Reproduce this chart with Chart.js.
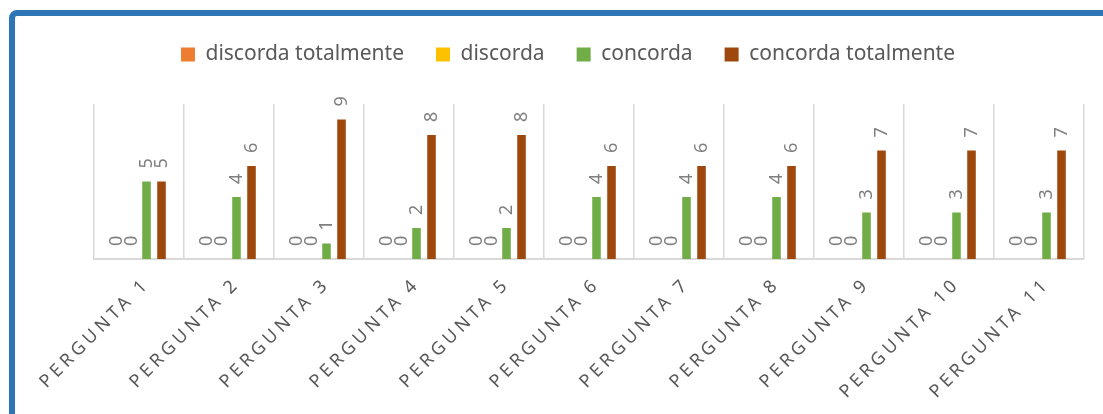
<!DOCTYPE html>
<html>
<head>
<meta charset="utf-8">
<script src="https://cdn.jsdelivr.net/npm/chart.js@4.4.0/dist/chart.umd.min.js"></script>
<style>
  html, body { margin: 0; padding: 0; background: #ffffff; overflow: hidden; }
  #frame {
    position: absolute; left: 9px; top: 10px;
    width: 1200px; height: 500px;
    border: 6px solid #2E75B6; border-radius: 8px;
    box-sizing: border-box;
  }
  #wrap { position: absolute; left: 0; top: 0; width: 1103px; height: 414px; }
</style>
</head>
<body>
<div id="frame"></div>
<div id="wrap"><canvas id="chart" width="1103" height="414"></canvas></div>
<script>
// ===========================
// Data
// ===========================
const categories = ["PERGUNTA 1", "PERGUNTA 2", "PERGUNTA 3", "PERGUNTA 4", "PERGUNTA 5", "PERGUNTA 6",
                    "PERGUNTA 7", "PERGUNTA 8", "PERGUNTA 9", "PERGUNTA 10", "PERGUNTA 11"];
const discordaTotalmente = [0, 0, 0, 0, 0, 0, 0, 0, 0, 0, 0];
const discorda = [0, 0, 0, 0, 0, 0, 0, 0, 0, 0, 0];
const concorda = [5, 4, 1, 2, 2, 4, 4, 4, 3, 3, 3];
const concordaTotalmente = [5, 6, 9, 8, 8, 6, 6, 6, 7, 7, 7];

// ===========================
// Plugins
// ===========================
// extra space under the legend, and nudge it a bit to the left
const legendSpacer = {
    id: 'legendSpacer',
    beforeInit(chart) {
        const origFit = chart.legend.fit;
        chart.legend.fit = function fit() {
            origFit.bind(chart.legend)();
            this.height += 29;
        };
    },
    afterLayout(chart) {
        chart.legend.left -= 21;
        chart.legend.right -= 21;
    }
};

// rotated value labels above each bar
const valueLabels = {
    id: 'valueLabels',
    afterDatasetsDraw(chart) {
        const ctx = chart.ctx;
        ctx.save();
        ctx.font = '18px "Noto Sans"';
        ctx.fillStyle = '#7f7f7f';
        ctx.textAlign = 'left';
        ctx.textBaseline = 'middle';
        chart.data.datasets.forEach((ds, di) => {
            const meta = chart.getDatasetMeta(di);
            meta.data.forEach((bar, i) => {
                ctx.save();
                ctx.translate(bar.x, bar.y - 13);
                ctx.rotate(-Math.PI / 2);
                ctx.fillText(String(ds.data[i]), 0, 0);
                ctx.restore();
            });
        });
        ctx.restore();
    }
};

// slanted, letter-spaced category labels
const categoryLabels = {
    id: 'categoryLabels',
    afterDraw(chart) {
        const ctx = chart.ctx;
        const xScale = chart.scales.x;
        const bottom = chart.chartArea.bottom;
        ctx.save();
        ctx.font = '18px "Noto Sans"';
        ctx.fillStyle = '#595959';
        ctx.textAlign = 'right';
        ctx.textBaseline = 'middle';
        ctx.letterSpacing = '4px';
        categories.forEach((label, i) => {
            const x = xScale.getPixelForValue(i);
            ctx.save();
            ctx.translate(x + 8, bottom + 22);
            ctx.rotate(-Math.PI / 4);
            ctx.fillText(label, 0, 0);
            ctx.restore();
        });
        ctx.restore();
    }
};

// ===========================
// Chart
// ===========================
const ctx = document.getElementById("chart").getContext("2d");
new Chart(ctx, {
    type: 'bar',
    data: {
        labels: categories,
        datasets: [
            { label: "discorda totalmente", data: discordaTotalmente, backgroundColor: "#ED7D31" },
            { label: "discorda", data: discorda, backgroundColor: "#FFC000" },
            { label: "concorda", data: concorda, backgroundColor: "#70AD47" },
            { label: "concorda totalmente", data: concordaTotalmente, backgroundColor: "#9E480E" }
        ]
    },
    options: {
        responsive: false,
        animation: false,
        datasets: { bar: { categoryPercentage: 0.667, barPercentage: 0.57 } },
        layout: { padding: { top: 12, left: 94, right: 19, bottom: 155 } },
        plugins: {
            legend: {
                display: true,
                position: 'top',
                labels: {
                    boxWidth: 14, boxHeight: 14, padding: 32,
                    color: '#595959',
                    font: { family: '"Noto Sans"', size: 21 }
                }
            },
            tooltip: { enabled: false }
        },
        scales: {
            x: {
                grid: { display: true, color: '#d9d9d9', lineWidth: 1.5, drawTicks: false, offset: true },
                border: { display: true, color: '#d9d9d9', width: 2 },
                ticks: { display: false }
            },
            y: {
                display: false,
                min: 0, max: 10
            }
        }
    },
    plugins: [legendSpacer, valueLabels, categoryLabels]
});
</script>
</body>
</html>
